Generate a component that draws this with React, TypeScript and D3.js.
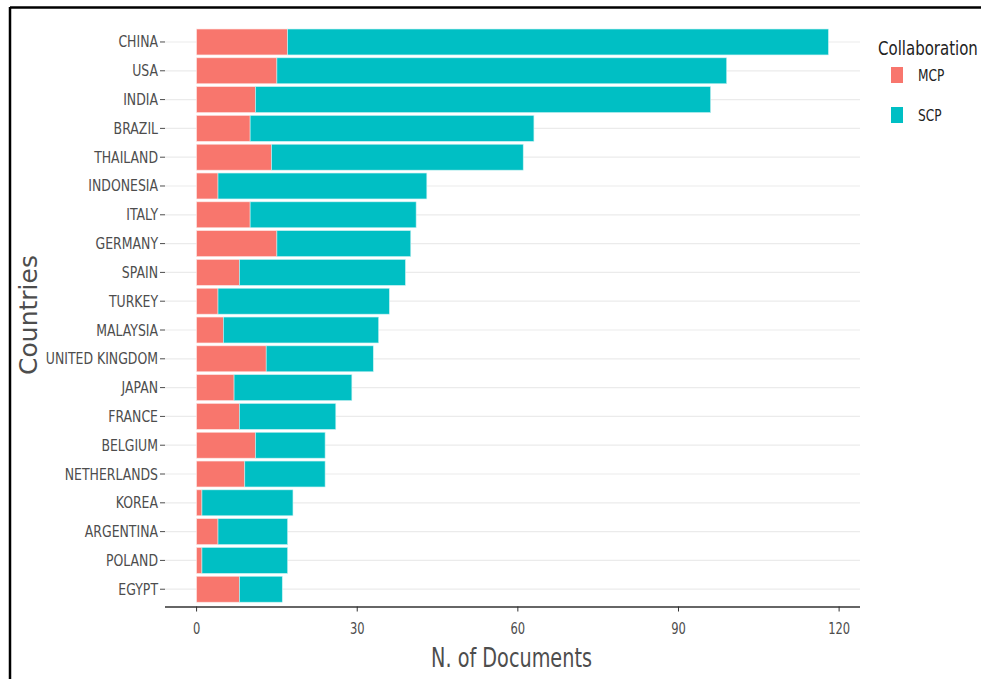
import React from "react";
import * as d3 from "d3";

const countries = ["CHINA","USA","INDIA","BRAZIL","THAILAND","INDONESIA","ITALY","GERMANY","SPAIN","TURKEY","MALAYSIA","UNITED KINGDOM","JAPAN","FRANCE","BELGIUM","NETHERLANDS","KOREA","ARGENTINA","POLAND","EGYPT"];
const mcp = [17,15,11,10,14,4,10,15,8,4,5,13,7,8,11,9,1,4,1,8];
const scp = [101,84,85,53,47,39,31,25,31,32,29,20,22,18,13,15,17,13,16,8];
const xTicks = [0,30,60,90,120];
const seriesNames = ["MCP","SCP"];
const seriesColors = ["#F8766D","#00BFC4"];

const W = 981, H = 679;
const left = 165, right = 860, top = 24.7, bottom = 606.5;
const FONT = "'DejaVu Sans', sans-serif";

function SText({ x, y, sx, anchor, size, fill, children }: any) {
  return (
    <text transform={`translate(${x},${y}) scale(${sx},1)`} textAnchor={anchor} fontSize={size} fill={fill}>
      {children}
    </text>
  );
}

export default function App() {
  const maxTotal = d3.max(countries.map((_, i) => mcp[i] + scp[i])) as number;
  const x = d3.scaleLinear().domain([-maxTotal * 0.05, maxTotal * 1.05]).range([left, right]);
  const y = d3.scaleBand().domain(countries).range([top, bottom]).paddingInner(0).paddingOuter(0.1);
  const bw = y.step() * 0.9;
  const yc = (c: string) => (y(c) as number) + y.bandwidth() / 2;
  const rows = countries.map((c, i) => ({ c, m: mcp[i], s: scp[i] }));
  return (
    <svg width={W} height={H} style={{ display: "block", fontFamily: FONT }}>
      <style>{`body{margin:0}`}</style>
      <rect x={0} y={0} width={W} height={H} fill="#fff" />
      {/* frame */}
      <line x1={10} x2={W} y1={7.5} y2={7.5} stroke="#000" strokeWidth={2.5} />
      <line x1={10} x2={10} y1={7} y2={H} stroke="#000" strokeWidth={2.5} />
      {/* gridlines */}
      {countries.map(c => (
        <line key={"g" + c} x1={left} x2={right} y1={yc(c)} y2={yc(c)} stroke="#ebebeb" strokeWidth={1.2} />
      ))}
      {/* bars */}
      {rows.map(r => (
        <g key={"b" + r.c}>
          <rect x={x(0)} y={yc(r.c) - bw / 2} width={x(r.m) - x(0)} height={bw} fill={seriesColors[0]} stroke="#fde3e1" strokeWidth={0.6} />
          <rect x={x(r.m)} y={yc(r.c) - bw / 2} width={x(r.m + r.s) - x(r.m)} height={bw} fill={seriesColors[1]} stroke="#c8f1f2" strokeWidth={0.6} />
        </g>
      ))}
      {/* y axis labels & ticks */}
      {countries.map(c => (
        <g key={"l" + c}>
          <line x1={160} x2={165} y1={yc(c)} y2={yc(c)} stroke="#4d4d4d" strokeWidth={1} />
          <SText x={158} y={yc(c) + 5.5} sx={0.78} anchor="end" size={16} fill="#4d4d4d">{c}</SText>
        </g>
      ))}
      {/* x axis */}
      <line x1={left} x2={right} y1={bottom + 0.5} y2={bottom + 0.5} stroke="#333" strokeWidth={1.5} />
      {xTicks.map(t => (
        <g key={"t" + t}>
          <line x1={x(t)} x2={x(t)} y1={bottom} y2={bottom + 5} stroke="#333" strokeWidth={1} />
          <SText x={x(t)} y={634} sx={0.72} anchor="middle" size={16} fill="#4d4d4d">{t}</SText>
        </g>
      ))}
      <SText x={(left + right) / 2 - 1} y={667} sx={0.74} anchor="middle" size={26} fill="#4d4d4d">N. of Documents</SText>
      <text transform={`translate(37,315) rotate(-90)`} textAnchor="middle" fontSize={25} fill="#4d4d4d">Countries</text>
      {/* legend */}
      <SText x={878} y={55} sx={0.75} anchor="start" size={20} fill="#222">Collaboration</SText>
      {seriesNames.map((n, i) => (
        <g key={"lg" + n}>
          <rect x={891} y={67 + i * 40} width={12} height={16} fill={seriesColors[i]} />
          <SText x={918} y={81 + i * 40} sx={0.76} anchor="start" size={16} fill="#222">{n}</SText>
        </g>
      ))}
    </svg>
  );
}
